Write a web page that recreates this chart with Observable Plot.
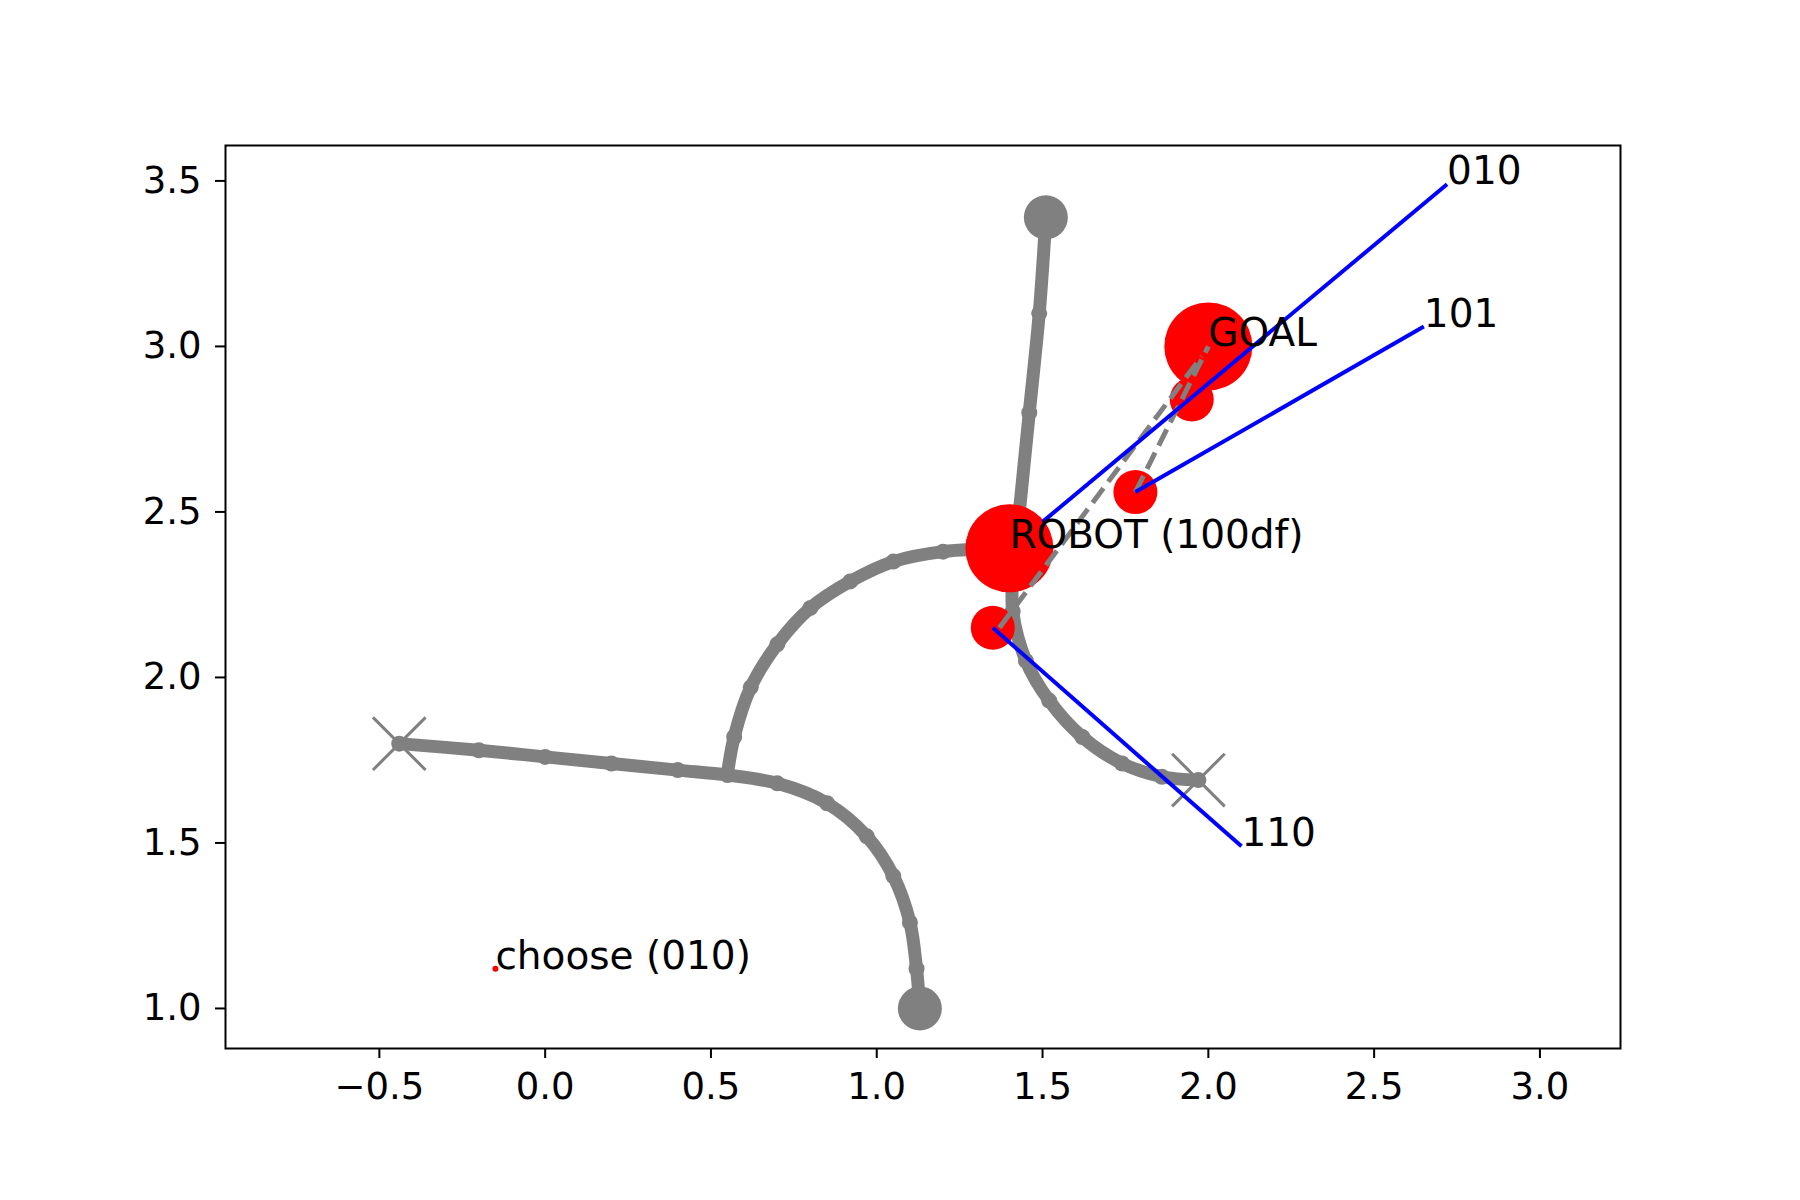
<!DOCTYPE html>
<html>
<head>
<meta charset="utf-8">
<script src="https://cdn.jsdelivr.net/npm/d3@7"></script>
<script src="https://cdn.jsdelivr.net/npm/@observablehq/plot@0.6"></script>
<style>
  body { margin: 0; background: #fff; }
  #chart svg { font-family: "DejaVu Sans", sans-serif; }
</style>
</head>
<body>
<div id="chart"></div>
<script>
// gray trajectories (waypoints)
const pathA = [[-0.44,1.80],[-0.2,1.78],[0.0,1.76],[0.2,1.74],[0.4,1.72],[0.55,1.705],[0.7,1.68],[0.85,1.62],[0.97,1.52],[1.05,1.40],[1.10,1.26],[1.12,1.12],[1.13,1.0]];
const pathB = [[0.55,1.71],[0.57,1.82],[0.62,1.97],[0.70,2.10],[0.80,2.21],[0.92,2.29],[1.05,2.35],[1.2,2.38],[1.4,2.39]];
const pathC = [[1.51,3.39],[1.49,3.1],[1.46,2.8],[1.43,2.5],[1.41,2.3],[1.41,2.2],[1.45,2.05],[1.52,1.93],[1.62,1.82],[1.74,1.74],[1.86,1.70],[1.97,1.69]];
const endDots = [[1.51,3.39],[1.13,1.0]];
const crosses = [[-0.44,1.80],[1.97,1.69]];

// red circles: x, y, radius in px
const redCircles = [[2.0,3.0,44],[1.4,2.39,44],[1.95,2.84,22],[1.78,2.56,22],[1.35,2.15,22],[-0.15,1.12,3]];

// blue lines
const blueLines = [[1.5,2.47,2.72,3.49],[1.78,2.56,2.65,3.06],[1.35,2.15,2.1,1.49]];
// gray dashed lines
const dashLines = [[1.37,2.15,1.98,2.97],[1.78,2.56,2.0,3.0]];

const labels = [
  {x:2.72, y:3.49, t:"010"},
  {x:2.65, y:3.06, t:"101"},
  {x:2.0, y:3.0, t:"GOAL"},
  {x:1.4, y:2.39, t:"ROBOT (100df)"},
  {x:2.1, y:1.49, t:"110"},
  {x:-0.15, y:1.12, t:"choose (010)"}
];

const xTicks = [-0.5,0.0,0.5,1.0,1.5,2.0,2.5,3.0];
const yTicks = [1.0,1.5,2.0,2.5,3.0,3.5];

const fmt = d => d3.format(".1f")(d).replace("-", "\u2212");
const pts = a => a.map(([x,y]) => ({x,y}));

const chart = Plot.plot({
  width: 1800, height: 1200,
  marginLeft: 225, marginRight: 180, marginTop: 145, marginBottom: 152,
  x: {domain: [-0.964, 3.243]},
  y: {domain: [0.879, 3.607]},
  r: {type: "identity"},
  style: {fontSize: "36px", fontFamily: "DejaVu Sans, sans-serif"},
  marks: [
    Plot.frame({stroke: "black", strokeWidth: 2}),
    Plot.axisX({ticks: xTicks, tickFormat: fmt, tickSize: 10, tickPadding: 14, fontSize: 37, label: null, strokeWidth: 2}),
    Plot.axisY({ticks: yTicks, tickFormat: fmt, tickSize: 10, tickPadding: 14, fontSize: 37, label: null, strokeWidth: 2}),
    ...[pathA, pathB, pathC].map(p => Plot.line(pts(p), {x: "x", y: "y", stroke: "gray", strokeWidth: 13, curve: "catmull-rom"})),
    ...[pathA, pathB, pathC].map(p => Plot.dot(pts(p), {x: "x", y: "y", fill: "gray", r: 8})),
    Plot.dot(pts(endDots), {x: "x", y: "y", fill: "gray", r: 22}),
    Plot.dot(pts(crosses), {x: "x", y: "y", symbol: "times", stroke: "gray", strokeWidth: 3, r: 24}),
    Plot.dot(redCircles.map(([x,y,r]) => ({x,y,r})), {x: "x", y: "y", r: "r", fill: "red"}),
    Plot.link(dashLines, {x1: d => d[0], y1: d => d[1], x2: d => d[2], y2: d => d[3], stroke: "gray", strokeWidth: 5, strokeDasharray: "18,8"}),
    Plot.link(blueLines, {x1: d => d[0], y1: d => d[1], x2: d => d[2], y2: d => d[3], stroke: "blue", strokeWidth: 4}),
    Plot.text(labels, {x: "x", y: "y", text: "t", textAnchor: "start", lineAnchor: "bottom", fontSize: 39, fill: "black"})
  ]
});
d3.select("#chart").append(() => chart);
</script>
</body>
</html>
